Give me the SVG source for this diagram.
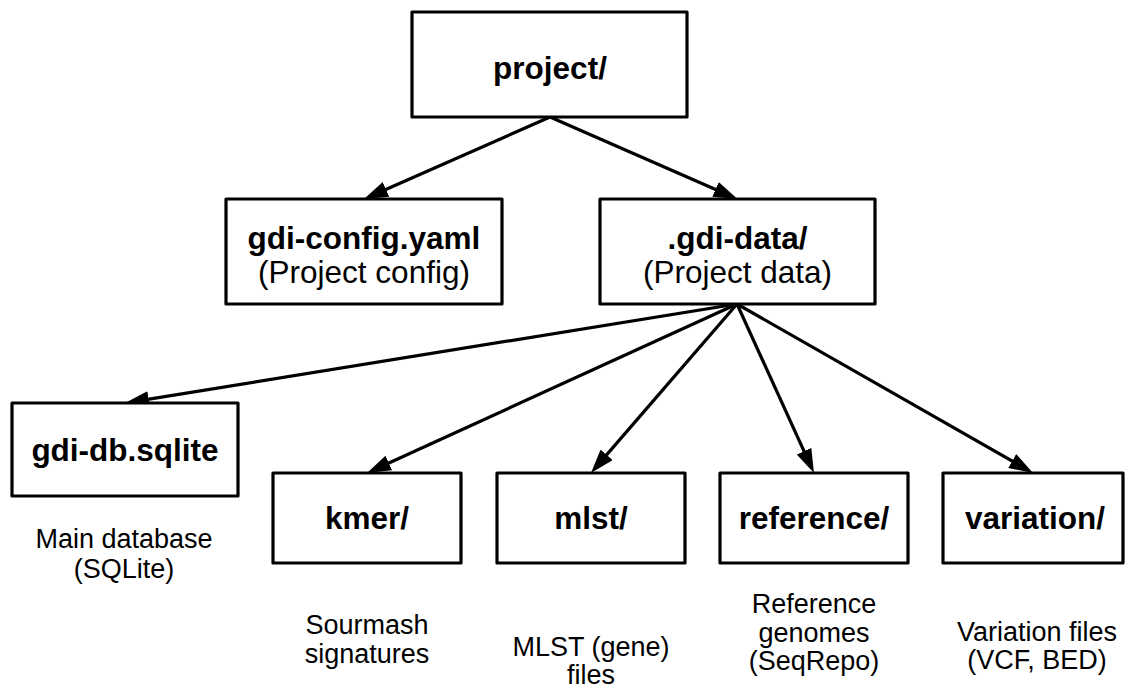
<svg xmlns="http://www.w3.org/2000/svg" width="1128" height="688" viewBox="0 0 1128 688">
  <style>
    .box { fill: #ffffff; stroke: #000000; stroke-width: 3.2; stroke-linejoin: round; }
    .edge { stroke: #000000; stroke-width: 3.2; fill: none; }
    .title { font-family: "Liberation Sans", Arial, sans-serif; font-size: 31.5px; font-weight: bold; fill: #000000; text-anchor: middle; }
    .sub { font-family: "Liberation Sans", Arial, sans-serif; font-size: 31.5px; fill: #000000; text-anchor: middle; }
    .note { font-family: "Liberation Sans", Arial, sans-serif; font-size: 27px; fill: #000000; text-anchor: middle; }
  </style>
  <defs>
    <marker id="arrow" markerUnits="userSpaceOnUse" viewBox="0 0 24 16" markerWidth="24" markerHeight="16" refX="12" refY="8" orient="auto">
      <path d="M0,0 L24,8 L0,16 z" fill="#000000"/>
    </marker>
  </defs>

  <rect width="1128" height="688" fill="#ffffff"/>

  <!-- connectors: each line stops short so the arrowhead tip lands on the box edge -->
  <g id="connectors">
    <line class="edge" x1="550" y1="117" x2="375.0" y2="194.2" marker-end="url(#arrow)"/>
    <line class="edge" x1="550" y1="117" x2="726.5" y2="194.2" marker-end="url(#arrow)"/>
    <line class="edge" x1="737" y1="304" x2="136.8" y2="401.1" marker-end="url(#arrow)"/>
    <line class="edge" x1="737" y1="304" x2="377.9" y2="468.0" marker-end="url(#arrow)"/>
    <line class="edge" x1="737" y1="304" x2="598.8" y2="463.9" marker-end="url(#arrow)"/>
    <line class="edge" x1="737" y1="304" x2="809.0" y2="462.1" marker-end="url(#arrow)"/>
    <line class="edge" x1="737" y1="304" x2="1022.6" y2="467.0" marker-end="url(#arrow)"/>
  </g>

  <!-- top-level project folder -->
  <g id="project">
    <rect class="box" x="412" y="12" width="275" height="105"/>
    <text class="title" x="550" y="79">project/</text>
  </g>

  <g id="gdi-config">
    <rect class="box" x="226" y="199" width="276" height="105"/>
    <text class="title" x="364" y="249">gdi-config.yaml</text>
    <text class="sub" x="364" y="283">(Project config)</text>
  </g>

  <g id="gdi-data">
    <rect class="box" x="600" y="199" width="275" height="105"/>
    <text class="title" x="737.5" y="249">.gdi-data/</text>
    <text class="sub" x="737.5" y="283">(Project data)</text>
  </g>

  <g id="gdi-db">
    <rect class="box" x="12" y="403" width="226" height="93"/>
    <text class="title" x="125" y="461">gdi-db.sqlite</text>
    <text class="note" x="124" y="548">Main database</text>
    <text class="note" x="124" y="578">(SQLite)</text>
  </g>

  <g id="kmer">
    <rect class="box" x="273" y="473" width="188" height="90"/>
    <text class="title" x="367" y="529">kmer/</text>
    <text class="note" x="367" y="634">Sourmash</text>
    <text class="note" x="367" y="663">signatures</text>
  </g>

  <g id="mlst">
    <rect class="box" x="497" y="473" width="188" height="90"/>
    <text class="title" x="591" y="529">mlst/</text>
    <text class="note" x="591" y="656">MLST (gene)</text>
    <text class="note" x="591" y="684">files</text>
  </g>

  <g id="reference">
    <rect class="box" x="720" y="473" width="188" height="90"/>
    <text class="title" x="814" y="529">reference/</text>
    <text class="note" x="814" y="613">Reference</text>
    <text class="note" x="814" y="641.5">genomes</text>
    <text class="note" x="814" y="670">(SeqRepo)</text>
  </g>

  <g id="variation">
    <rect class="box" x="943" y="473" width="180" height="90"/>
    <text class="title" x="1035" y="529">variation/</text>
    <text class="note" x="1037" y="641">Variation files</text>
    <text class="note" x="1037" y="669">(VCF, BED)</text>
  </g>
</svg>
